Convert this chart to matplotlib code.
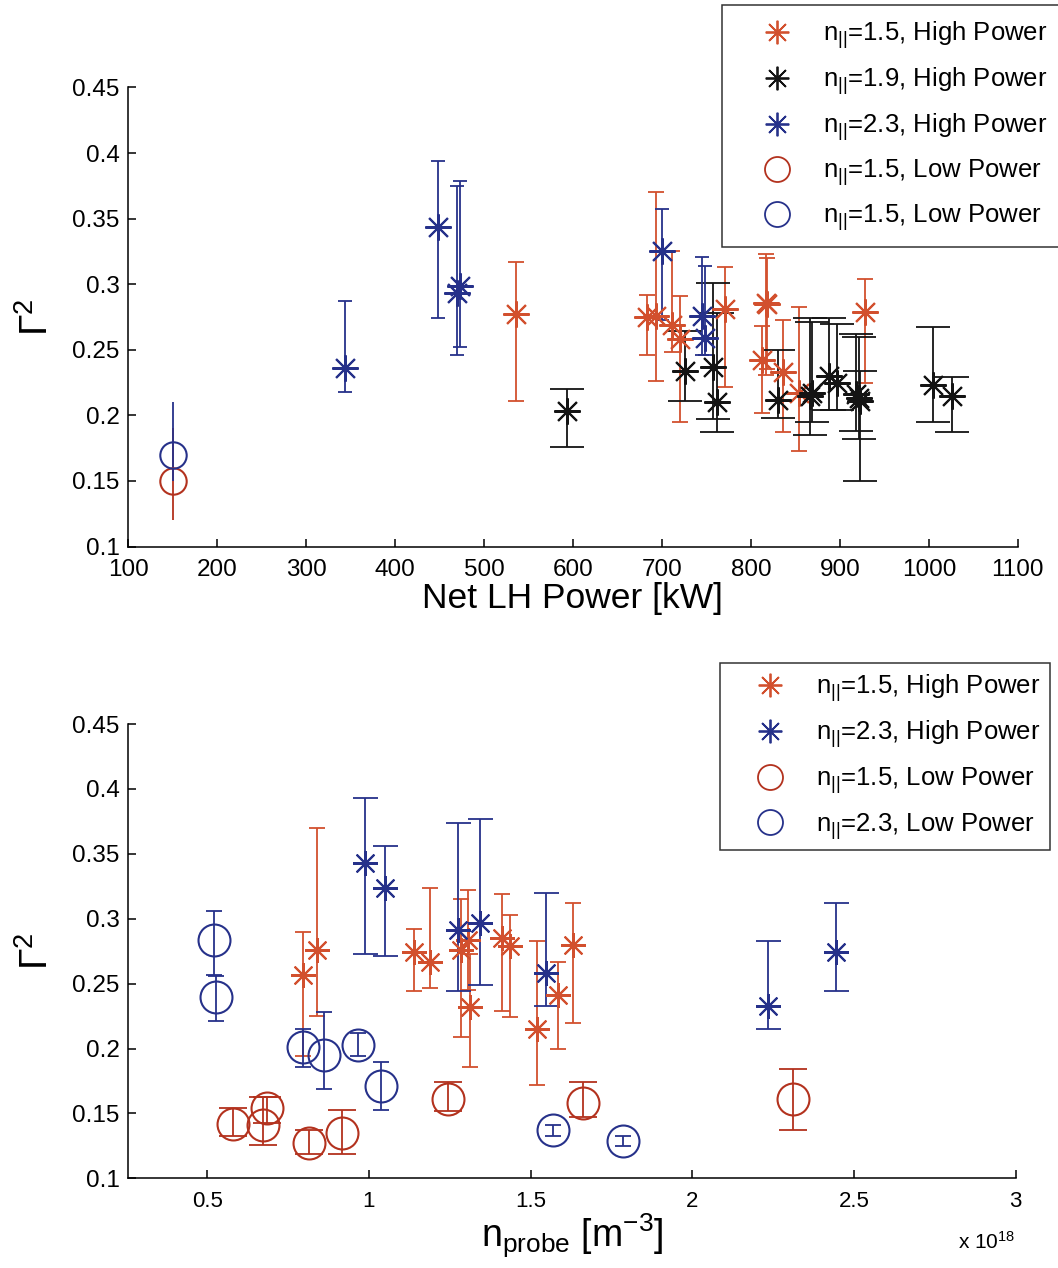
import numpy as np
import matplotlib
matplotlib.use("Agg")
import matplotlib.pyplot as plt
from matplotlib.lines import Line2D

plt.rcParams['font.family'] = ['Liberation Sans', 'DejaVu Sans']
plt.rcParams['mathtext.fontset'] = 'custom'
plt.rcParams['mathtext.rm'] = 'Liberation Sans'
plt.rcParams['mathtext.it'] = 'Liberation Sans:italic'
plt.rcParams['mathtext.bf'] = 'Liberation Sans:bold'

RED = '#d2502e'
DKRED = '#b3321e'
BLUE = '#26318a'
BLACK = '#141414'

# ---- top panel: Gamma^2 vs net LH power ----
p_red_x = [535.6, 682.8, 693.3, 710.9, 720.2, 770.8, 813.0, 817.0, 818.5, 836.3, 854.3, 928.1]
p_red_y = [0.277, 0.275, 0.276, 0.269, 0.258, 0.281, 0.242, 0.286, 0.285, 0.233, 0.217, 0.279]
p_red_hi = [0.317, 0.292, 0.370, 0.325, 0.291, 0.313, 0.268, 0.323, 0.320, 0.273, 0.283, 0.304]
p_red_lo = [0.211, 0.246, 0.226, 0.248, 0.195, 0.222, 0.202, 0.231, 0.235, 0.187, 0.173, 0.225]

p_blk_x = [592.9, 725.8, 757.0, 762.2, 830.0, 866.0, 869.0, 888.0, 896.3, 918.7, 921.0, 922.5, 1004.9, 1026.2]
p_blk_y = [0.203, 0.234, 0.237, 0.210, 0.212, 0.215, 0.217, 0.230, 0.225, 0.216, 0.213, 0.211, 0.223, 0.215]
p_blk_hi = [0.220, 0.264, 0.301, 0.278, 0.250, 0.274, 0.271, 0.274, 0.270, 0.262, 0.260, 0.234, 0.267, 0.229]
p_blk_lo = [0.176, 0.211, 0.197, 0.187, 0.198, 0.185, 0.195, 0.204, 0.204, 0.188, 0.182, 0.150, 0.195, 0.187]

p_blu_x = [343.8, 448.7, 470.0, 473.0, 699.6, 744.6, 748.3]
p_blu_y = [0.236, 0.344, 0.293, 0.299, 0.325, 0.276, 0.259]
p_blu_hi = [0.287, 0.394, 0.375, 0.379, 0.357, 0.321, 0.314]
p_blu_lo = [0.218, 0.274, 0.246, 0.252, 0.273, 0.246, 0.246]

p_redlow_x = [150.0]
p_redlow_y = [0.150]
p_redlow_hi = [0.190]
p_redlow_lo = [0.120]

p_blulow_x = [150.0]
p_blulow_y = [0.170]
p_blulow_hi = [0.210]
p_blulow_lo = [0.150]

# ---- bottom panel: Gamma^2 vs probe density (x 1e18) ----
n_red_x = [0.795, 0.840, 1.139, 1.190, 1.284, 1.307, 1.314, 1.410, 1.436, 1.520, 1.585, 1.631]
n_red_y = [0.257, 0.276, 0.274, 0.267, 0.276, 0.284, 0.232, 0.285, 0.279, 0.215, 0.241, 0.280]
n_red_hi = [0.290, 0.370, 0.292, 0.324, 0.315, 0.322, 0.273, 0.319, 0.303, 0.283, 0.267, 0.312]
n_red_lo = [0.194, 0.225, 0.244, 0.247, 0.209, 0.245, 0.186, 0.229, 0.224, 0.172, 0.200, 0.220]

n_blu_x = [0.988, 1.051, 1.276, 1.345, 1.549, 2.234, 2.443]
n_blu_y = [0.343, 0.324, 0.291, 0.297, 0.258, 0.233, 0.274]
n_blu_hi = [0.393, 0.356, 0.374, 0.377, 0.320, 0.283, 0.312]
n_blu_lo = [0.273, 0.271, 0.244, 0.249, 0.233, 0.215, 0.244]

n_redlow_x = [0.580, 0.671, 0.686, 0.814, 0.917, 1.243, 1.662, 2.311]
n_redlow_y = [0.142, 0.141, 0.154, 0.127, 0.135, 0.161, 0.158, 0.161]
n_redlow_hi = [0.154, 0.163, 0.163, 0.137, 0.153, 0.174, 0.174, 0.184]
n_redlow_lo = [0.133, 0.126, 0.143, 0.119, 0.119, 0.152, 0.147, 0.137]

n_blulow_x = [0.521, 0.527, 0.795, 0.862, 0.965, 1.036, 1.568, 1.786]
n_blulow_y = [0.284, 0.240, 0.201, 0.195, 0.203, 0.171, 0.137, 0.129]
n_blulow_hi = [0.306, 0.256, 0.215, 0.228, 0.212, 0.190, 0.141, 0.133]
n_blulow_lo = [0.257, 0.221, 0.186, 0.169, 0.194, 0.153, 0.133, 0.125]

y_ticks = [0.1, 0.15, 0.2, 0.25, 0.3, 0.35, 0.4, 0.45]
y_ticklabels = ['0.1', '0.15', '0.2', '0.25', '0.3', '0.35', '0.4', '0.45']

STAR = (8, 2, 0)


def draw_series(ax, x, y, hi, lo, color, marker, ms, capsize):
    x = np.asarray(x)
    y = np.asarray(y)
    yerr = [y - np.asarray(lo), np.asarray(hi) - y]
    ax.errorbar(x, y, yerr=yerr, fmt='none', ecolor=color, elinewidth=1.3,
                capsize=capsize, capthick=1.3, zorder=3)
    ax.plot(x, y, linestyle='none', marker=marker, ms=ms, mfc='none',
            mec=color, mew=1.5, zorder=4)


def style_axes(ax, xticksize):
    ax.spines['top'].set_visible(False)
    ax.spines['right'].set_visible(False)
    for s in ('left', 'bottom'):
        ax.spines[s].set_linewidth(1.1)
    ax.tick_params(direction='in', length=6, width=1.1, pad=9)
    ax.tick_params(axis='y', labelsize=17.5, pad=6)
    ax.tick_params(axis='x', labelsize=xticksize)


def legend_handle(color, marker, ms):
    return Line2D([], [], linestyle='none', marker=marker, ms=ms, mfc='none',
                  mec=color, mew=1.3)


def add_legend(ax, handles, labels, x0, y0, spacing, bpad):
    leg = ax.legend(handles, labels, loc='upper left',
                    bbox_to_anchor=(x0 / 1058, 1 - y0 / 1268),
                    bbox_transform=fig.transFigure, fontsize=18.5, frameon=True,
                    fancybox=False, edgecolor='black', borderpad=bpad,
                    labelspacing=spacing, handletextpad=0.2, handlelength=3.2,
                    borderaxespad=0)
    leg.get_frame().set_linewidth(1.1)
    return leg


fig = plt.figure(figsize=(10.58, 12.68), dpi=100)

# top axes
ax1 = fig.add_axes([0.121, 0.569, 0.841, 0.362])
draw_series(ax1, p_red_x, p_red_y, p_red_hi, p_red_lo, RED, STAR, 19, 6)
draw_series(ax1, p_blk_x, p_blk_y, p_blk_hi, p_blk_lo, BLACK, STAR, 19, 12)
draw_series(ax1, p_blu_x, p_blu_y, p_blu_hi, p_blu_lo, BLUE, STAR, 19, 5)
draw_series(ax1, p_redlow_x, p_redlow_y, p_redlow_hi, p_redlow_lo, DKRED, 'o', 19, 0)
draw_series(ax1, p_blulow_x, p_blulow_y, p_blulow_hi, p_blulow_lo, BLUE, 'o', 19, 0)
ax1.set_xlim(100, 1100)
ax1.set_ylim(0.1, 0.45)
ax1.set_xticks(np.arange(100, 1101, 100))
ax1.set_yticks(y_ticks)
ax1.set_yticklabels(y_ticklabels)
style_axes(ax1, 17.5)
ax1.set_xlabel('Net LH Power [kW]', fontsize=25.5, labelpad=1)
ax1.set_ylabel('Γ$^{2}$', fontsize=28, labelpad=12)

h1 = [legend_handle(RED, STAR, 17), legend_handle(BLACK, STAR, 17),
      legend_handle(BLUE, STAR, 17), legend_handle(DKRED, 'o', 18),
      legend_handle(BLUE, 'o', 18)]
l1 = [r'n$_{||}$=1.5, High Power', r'n$_{||}$=1.9, High Power',
      r'n$_{||}$=2.3, High Power', r'n$_{||}$=1.5, Low Power',
      r'n$_{||}$=1.5, Low Power']
add_legend(ax1, h1, l1, 722, 5, 0.56, 0.55)

# bottom axes
ax2 = fig.add_axes([0.121, 0.0707, 0.839, 0.3583])
draw_series(ax2, n_red_x, n_red_y, n_red_hi, n_red_lo, RED, STAR, 18, 6)
draw_series(ax2, n_blu_x, n_blu_y, n_blu_hi, n_blu_lo, BLUE, STAR, 18, 9)
draw_series(ax2, n_redlow_x, n_redlow_y, n_redlow_hi, n_redlow_lo, DKRED, 'o', 23, 10)
draw_series(ax2, n_blulow_x, n_blulow_y, n_blulow_hi, n_blulow_lo, BLUE, 'o', 23, 6)
ax2.set_xlim(0.255, 3.0)
ax2.set_ylim(0.1, 0.45)
ax2.set_xticks([0.5, 1.0, 1.5, 2.0, 2.5, 3.0])
ax2.set_xticklabels(['0.5', '1', '1.5', '2', '2.5', '3'])
ax2.set_yticks(y_ticks)
ax2.set_yticklabels(y_ticklabels)
style_axes(ax2, 16)
ax2.set_xlabel(r'n$_{\mathrm{probe}}$ [m$^{-3}$]', fontsize=27, labelpad=0)
ax2.set_ylabel('Γ$^{2}$', fontsize=28, labelpad=12)
ax2.text(1.0, -0.14, r'x 10$^{18}$', transform=ax2.transAxes, ha='right',
         va='center', fontsize=15)

h2 = [legend_handle(RED, STAR, 17), legend_handle(BLUE, STAR, 17),
      legend_handle(DKRED, 'o', 18), legend_handle(BLUE, 'o', 18)]
l2 = [r'n$_{||}$=1.5, High Power', r'n$_{||}$=2.3, High Power',
      r'n$_{||}$=1.5, Low Power', r'n$_{||}$=2.3, Low Power']
add_legend(ax2, h2, l2, 720, 663, 0.58, 0.35)

fig.savefig('out.png', dpi=100, facecolor='white')
